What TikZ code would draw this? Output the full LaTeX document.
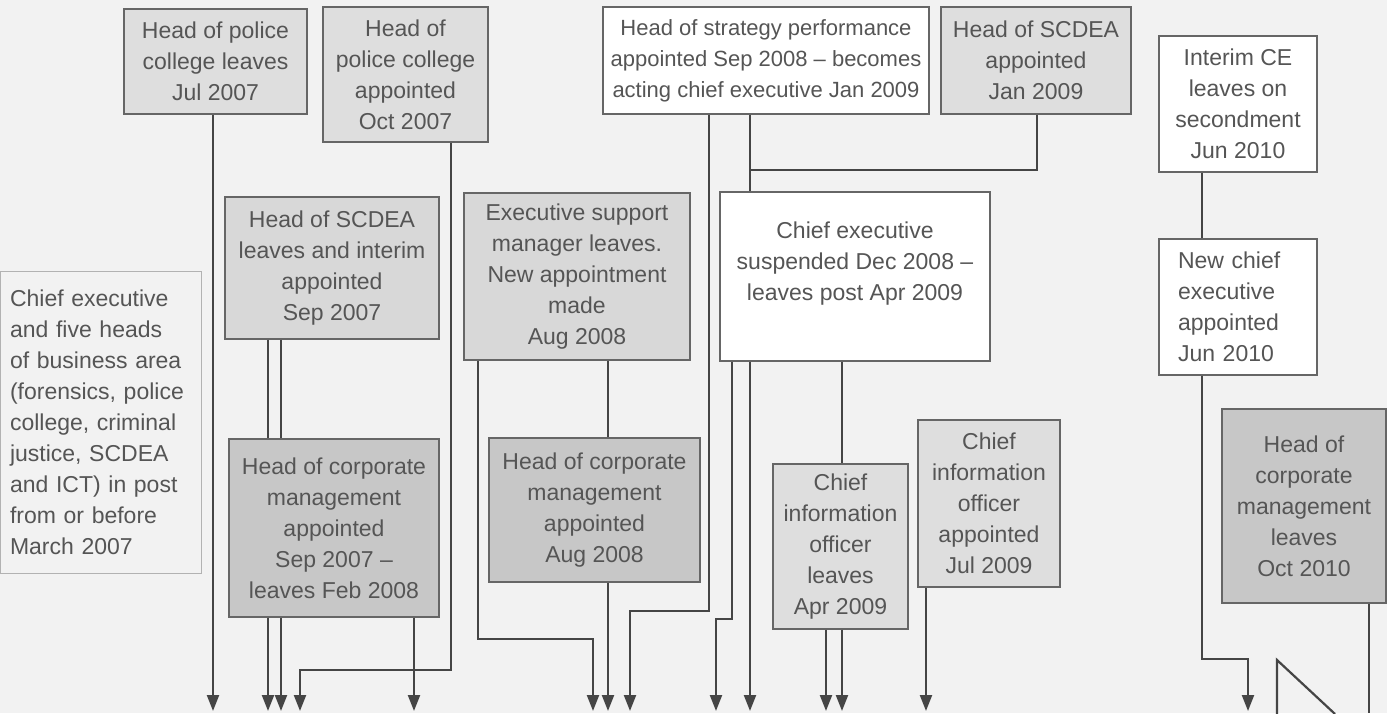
\documentclass[tikz,border=0pt]{standalone}
\usepackage{fontspec}
\setmainfont{Liberation Sans}
\usetikzlibrary{arrows.meta}
\definecolor{bgc}{HTML}{F2F2F2}
\definecolor{lightfill}{HTML}{DEDEDE}
\definecolor{midfill}{HTML}{D8D8D8}
\definecolor{darkfill}{HTML}{C7C7C7}
\definecolor{edgec}{HTML}{666666}
\definecolor{linec}{HTML}{454545}
\definecolor{textc}{HTML}{555555}
\tikzset{
  box/.style={draw=edgec, line width=1.4pt, inner xsep=2pt, inner ysep=0pt, align=center,
    text=textc, font=\fontsize{23}{31}\selectfont},
  lbox/.style={box, align=left},
  conn/.style={draw=linec, line width=2.2pt},
  arr/.style={conn, -{Triangle[width=12pt,length=16pt]}},
}
\begin{document}
\begin{tikzpicture}[x=1pt,y=-1pt]
\path[use as bounding box, fill=bgc] (0,0) rectangle (1387,713);

% boxes
\node[box, fill=lightfill, minimum width=183pt, minimum height=105pt] (pcl) at (215.5,61.5)
  {Head of police\\college leaves\\Jul 2007};
\node[box, fill=lightfill, minimum width=165pt, minimum height=135pt] (pca) at (405.5,74.5)
  {Head of\\police college\\appointed\\Oct 2007};
\node[box, fill=midfill, minimum width=214pt, minimum height=142pt] (scl) at (332,268)
  {Head of SCDEA\\leaves and interim\\appointed\\Sep 2007};
\node[box, fill=darkfill, minimum width=210pt, minimum height=178pt] (cma) at (334,528)
  {Head of corporate\\management\\appointed\\Sep 2007 –\\leaves Feb 2008};
\node[lbox, fill=bgc, draw=gray!60, line width=1pt, inner xsep=10pt, minimum width=201pt, minimum height=302pt, text width=181pt] (intro) at (100.5,422)
  {Chief executive\\and five heads\\of business area\\(forensics, police\\college, criminal\\justice, SCDEA\\and ICT) in post\\from or before\\March 2007};
\node[box, fill=midfill, minimum width=226pt, minimum height=167pt] (esm) at (577,276.5)
  {Executive support\\manager leaves.\\New appointment\\made\\Aug 2008};
\node[box, fill=darkfill, minimum width=211pt, minimum height=144pt] (cmb) at (594.5,510)
  {Head of corporate\\management\\appointed\\Aug 2008};
\node[box, fill=white, minimum width=326pt, minimum height=107pt, font=\fontsize{22}{31}\selectfont] (strat) at (766,60.5)
  {Head of strategy performance\\appointed Sep 2008 – becomes\\acting chief executive Jan 2009};
\node[box, fill=lightfill, minimum width=190pt, minimum height=107pt] (scda) at (1036,60.5)
  {Head of SCDEA\\appointed\\Jan 2009};
\node[box, fill=white, minimum width=270pt, minimum height=169pt] (ces) at (855,276.5)
  {Chief executive\\suspended Dec 2008 –\\leaves post Apr 2009\\\mbox{}};
\node[box, fill=lightfill, minimum width=135pt, minimum height=165pt] (ciol) at (840.5,546.5)
  {Chief\\information\\officer\\leaves\\Apr 2009};
\node[box, fill=lightfill, minimum width=142pt, minimum height=167pt] (cioa) at (989,503.5)
  {Chief\\information\\officer\\appointed\\Jul 2009};
\node[box, fill=white, minimum width=158pt, minimum height=136pt] (ice) at (1238,104)
  {Interim CE\\leaves on\\secondment\\Jun 2010};
\node[lbox, fill=white, inner xsep=19pt, minimum width=158pt, minimum height=136pt, text width=120pt] (nce) at (1238,307)
  {New chief\\executive\\appointed\\Jun 2010};
\node[box, fill=darkfill, minimum width=164pt, minimum height=194pt] (cmc) at (1304,506)
  {Head of\\corporate\\management\\leaves\\Oct 2010};

% arrow ends
\coordinate (e1) at (213,711);
\coordinate (e2) at (268,711);
\coordinate (e3) at (281,711);
\coordinate (e4) at (300,711);
\coordinate (e5) at (414,711);
\coordinate (e6) at (593,711);
\coordinate (e7) at (608,711);
\coordinate (e8) at (630,711);
\coordinate (e9) at (716,711);
\coordinate (e10) at (750,711);
\coordinate (e11) at (826,711);
\coordinate (e12) at (842,711);
\coordinate (e13) at (926,711);
\coordinate (e14) at (1248,711);
\coordinate (e15) at (1369,713);

% connectors
\draw[arr] (pcl.south -| e1) -- (e1);
\draw[arr] (pca.south -| 451,0) |- (e4 |- 0,670) -- (e4);
\draw[conn] (scl.south -| e2) -- (cma.north -| e2);
\draw[conn] (scl.south -| e3) -- (cma.north -| e3);
\draw[arr] (cma.south -| e2) -- (e2);
\draw[arr] (cma.south -| e3) -- (e3);
\draw[arr] (cma.south -| e5) -- (e5);
\draw[arr] (esm.south -| 478,0) |- (e6 |- 0,639) -- (e6);
\draw[conn] (esm.south -| e7) -- (cmb.north -| e7);
\draw[arr] (cmb.south -| e7) -- (e7);
\draw[arr] (strat.south -| 709,0) |- (e8 |- 0,611) -- (e8);
\draw[conn] (strat.south -| e10) -- (ces.north -| e10);
\draw[conn] (scda.south -| 1037,0) |- (e10 |- 0,170);
\draw[arr] (ces.south -| e10) -- (e10);
\draw[arr] (ces.south -| 732,0) |- (e9 |- 0,619) -- (e9);
\draw[conn] (ces.south -| e12) -- (ciol.north -| e12);
\draw[arr] (ciol.south -| e11) -- (e11);
\draw[arr] (ciol.south -| e12) -- (e12);
\draw[arr] (cioa.south -| e13) -- (e13);
\draw[conn] (ice.south -| 1202,0) -- (nce.north -| 1202,0);
\draw[arr] (nce.south -| 1202,0) |- (e14 |- 0,659) -- (e14);
\draw[conn] (cmc.south -| e15) -- (e15);
\draw[conn, line join=miter] (1277,714) -- (1277,660) -- (1335,714);
\end{tikzpicture}
\end{document}
